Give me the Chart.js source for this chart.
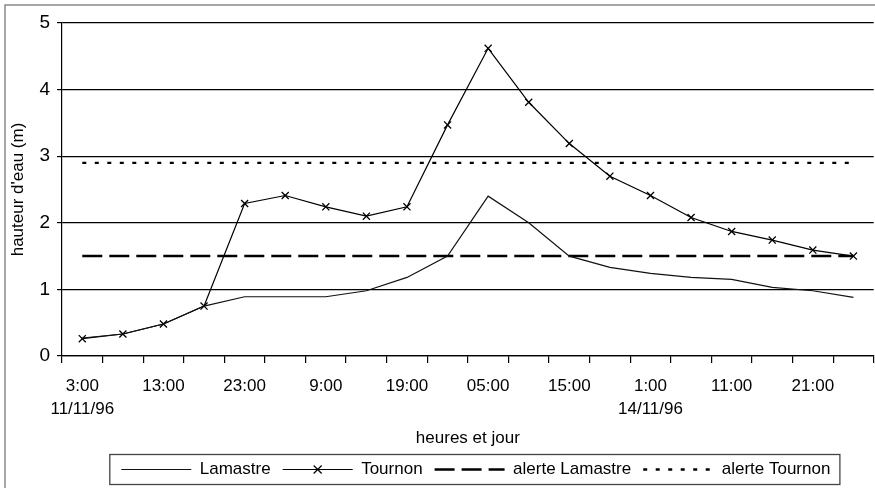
<!DOCTYPE html>
<html>
<head>
<meta charset="utf-8">
<script src="https://cdn.jsdelivr.net/npm/chart.js@4/dist/chart.umd.min.js"></script>
<style>
  html, body { margin: 0; padding: 0; background: #fff; overflow: hidden; }
  #wrap { width: 880px; height: 488px; }
</style>
</head>
<body>
<div id="wrap"><canvas id="crue"></canvas></div>
<script>
// heures des relevés (toutes les 5 h)
const heures = ['3:00', '8:00', '13:00', '18:00', '23:00', '4:00', '9:00', '14:00', '19:00', '0:00',
                '05:00', '10:00', '15:00', '20:00', '1:00', '6:00', '11:00', '16:00', '21:00', '2:00'];
// dates écrites sous certaines heures
const jours = [[0, '11/11/96'], [14, '14/11/96']];

// hauteurs d'eau (m)
const lamastre = [0.27, 0.33, 0.48, 0.75, 0.89, 0.89, 0.89, 0.98, 1.18, 1.50,
                  2.40, 2.00, 1.50, 1.33, 1.24, 1.18, 1.15, 1.03, 0.98, 0.88];
const tournon = [0.26, 0.33, 0.48, 0.75, 2.29, 2.41, 2.24, 2.10, 2.24, 3.47,
                 4.62, 3.81, 3.19, 2.70, 2.41, 2.08, 1.87, 1.74, 1.59, 1.50];
const alerteLamastre = [1.5, 1.5, 1.5, 1.5, 1.5, 1.5, 1.5, 1.5, 1.5, 1.5,
                        1.5, 1.5, 1.5, 1.5, 1.5, 1.5, 1.5, 1.5, 1.5, 1.5];
const alerteTournon = [2.9, 2.9, 2.9, 2.9, 2.9, 2.9, 2.9, 2.9, 2.9, 2.9,
                       2.9, 2.9, 2.9, 2.9, 2.9, 2.9, 2.9, 2.9, 2.9, 2.9];

const yTicks = [0, 1, 2, 3, 4, 5];

const police = 'Liberation Sans, Arial, sans-serif';

// cadre extérieur + cadre de la légende + croix du symbole Tournon
const cadres = {
  id: 'cadres',
  afterLayout(chart) {
    // la légende est un peu décalée vers la droite dans l'original
    chart.legend.left += 8;
    chart.legend.right += 8;
  },
  afterDraw(chart) {
    const ctx = chart.ctx;
    ctx.save();
    ctx.strokeStyle = '#8a8a8a';
    ctx.lineWidth = 1.5;
    ctx.strokeRect(5, 5, 1000, 1000);

    const hb = chart.legend.legendHitBoxes;
    if (hb && hb.length) {
      const first = hb[0], last = hb[hb.length - 1];
      ctx.strokeStyle = '#444';
      ctx.lineWidth = 1.3;
      ctx.strokeRect(first.left - 11.5, first.top - 6.5,
                     last.left + last.width - first.left + 21, first.height + 13);

      // petite croix au milieu du trait de Tournon
      const t = hb[1];
      const cx = t.left + 35, cy = t.top + t.height / 2;
      ctx.strokeStyle = '#000';
      ctx.lineWidth = 1.2;
      ctx.beginPath();
      ctx.moveTo(cx - 4, cy - 4); ctx.lineTo(cx + 4, cy + 4);
      ctx.moveTo(cx - 4, cy + 4); ctx.lineTo(cx + 4, cy - 4);
      ctx.stroke();
    }
    ctx.restore();
  }
};

// légende : reprendre les pointillés des séries
function legendeLabels(chart) {
  const items = Chart.defaults.plugins.legend.labels.generateLabels(chart);
  items.forEach(it => {
    const ds = chart.data.datasets[it.datasetIndex];
    it.lineDash = ds.borderDash || [];
    it.lineWidth = ds.borderWidth;
    it.strokeStyle = ds.borderColor;
  });
  return items;
}

new Chart(document.getElementById('crue'), {
  type: 'line',
  data: {
    labels: heures,
    datasets: [
      {
        label: 'Lamastre',
        data: lamastre,
        borderColor: '#111',
        borderWidth: 1.2,
        pointRadius: 0
      },
      {
        label: 'Tournon',
        data: tournon,
        borderColor: '#000',
        borderWidth: 1.2,
        pointStyle: 'crossRot',
        pointRadius: 5,
        pointBorderWidth: 1.3,
        pointBorderColor: '#000'
      },
      {
        label: 'alerte Lamastre',
        data: alerteLamastre,
        borderColor: '#000',
        borderWidth: 2.5,
        borderDash: [20, 7],
        pointRadius: 0
      },
      {
        label: 'alerte Tournon',
        data: alerteTournon,
        borderColor: '#000',
        borderWidth: 2.3,
        borderDash: [4, 8.5],
        pointRadius: 0
      }
    ]
  },
  options: {
    responsive: true,
    maintainAspectRatio: false,
    animation: false,
    layout: { padding: { left: 0, top: 23, right: 2, bottom: 0 } },
    elements: { line: { tension: 0 } },
    plugins: {
      tooltip: { enabled: false },
      legend: {
        position: 'bottom',
        fullSize: false,
        labels: {
          color: '#000',
          font: { family: police, size: 17 },
          usePointStyle: true,
          pointStyle: 'line',
          pointStyleWidth: 70,
          padding: 12,
          generateLabels: legendeLabels
        }
      }
    },
    scales: {
      x: {
        offset: true,
        afterFit(scale) { scale.height = 93; },
        border: { color: '#000', width: 1.2 },
        grid: {
          offset: true,
          drawOnChartArea: false,
          drawTicks: true,
          tickLength: 7,
          color: '#000',
          lineWidth: 1.2
        },
        ticks: {
          autoSkip: false,
          maxRotation: 0,
          padding: 11,
          color: '#000',
          font: { family: police, size: 17, lineHeight: 1.4 },
          callback(value, index) {
            if (index % 2 !== 0) return '';
            const j = jours.find(d => d[0] === index);
            return j ? [heures[index], j[1]] : heures[index];
          }
        },
        title: {
          display: true,
          text: 'heures et jour',
          color: '#000',
          font: { family: police, size: 17 },
          padding: { top: 0, bottom: 0 }
        }
      },
      y: {
        min: 0,
        max: 5,
        afterFit(scale) { scale.width = 62; },
        afterBuildTicks(scale) { scale.ticks = yTicks.map(v => ({ value: v })); },
        border: { color: '#000', width: 1.2 },
        grid: {
          color: '#000',
          lineWidth: 1.2,
          tickLength: 5
        },
        ticks: {
          padding: 7,
          color: '#000',
          font: { family: police, size: 19 }
        },
        title: {
          display: true,
          text: "hauteur d'eau (m)",
          color: '#000',
          font: { family: police, size: 17 },
          padding: { top: 8, bottom: 0 }
        }
      }
    }
  },
  plugins: [cadres]
});
</script>
</body>
</html>
